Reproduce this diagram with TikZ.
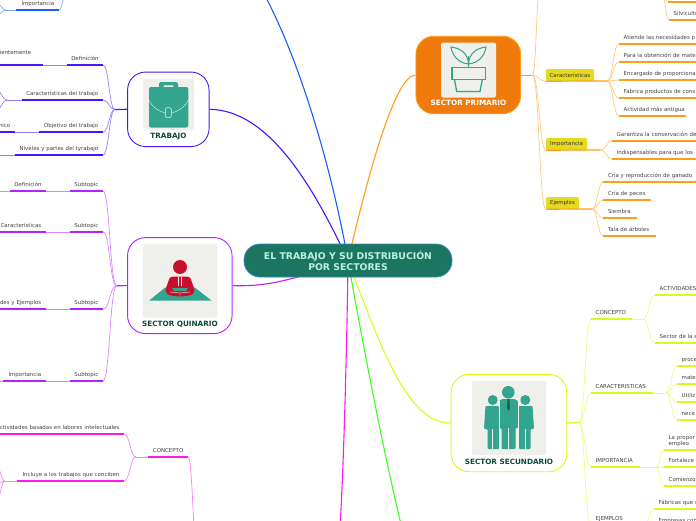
\documentclass[tikz,border=0pt]{standalone}
\usepackage{xcolor}
\usepackage{fontspec}
\setmainfont{DejaVu Sans}
\usetikzlibrary{calc, backgrounds}

\definecolor{violetc}{HTML}{4A14FF}
\definecolor{bluec}{HTML}{1A5CFF}
\definecolor{purplec}{HTML}{B422FF}
\definecolor{magentac}{HTML}{FF19E8}
\definecolor{orangec}{HTML}{FF9D1A}
\definecolor{limec}{HTML}{D2FF1A}
\definecolor{greenc}{HTML}{3CFF1E}
\definecolor{tealc}{HTML}{33A58F}
\definecolor{tilec}{HTML}{EFEFEB}
\definecolor{redc}{HTML}{C8102E}
\definecolor{darkc}{HTML}{0D4A3A}
\definecolor{mainc}{HTML}{1B7560}
\definecolor{mainb}{HTML}{3A8BB8}
\definecolor{maint}{HTML}{B9F2DE}
\definecolor{primc}{HTML}{F07A0C}
\definecolor{tagc}{HTML}{E6D91F}

\begin{document}
\begin{tikzpicture}[
    x=1pt, y=-1pt,
    central/.style={rectangle, rounded corners=16pt, draw=mainb, line width=.8pt, fill=mainc},
    sector/.style={rectangle, rounded corners=18pt, draw=#1, line width=.9pt, fill=white},
    tile/.style={rectangle, rounded corners=2pt, fill=tilec, inner sep=0pt},
    seclabel/.style={font=\fontsize{7.25}{8}\selectfont\bfseries, text=darkc, inner sep=0pt},
    lleaf/.style={anchor=south east, align=right, font=\fontsize{5.45}{6.2}\selectfont, text=black!75, inner xsep=4.5pt, inner ysep=2.8pt, text height=4pt, text depth=1.2pt},
    rleaf/.style={anchor=south west, align=left, font=\fontsize{5.45}{6.2}\selectfont, text=black!75, inner xsep=4.5pt, inner ysep=2.8pt, text height=4pt, text depth=1.2pt},
    tag/.style={rectangle, rounded corners=1.5pt, fill=tagc, text=black!80, inner sep=0pt, minimum height=12pt, font=\fontsize{5.45}{6.2}\selectfont},
    scurve/.style={to path={.. controls ($(\tikztostart)!0.5!(\tikztostart -| \tikztotarget)$) and ($(\tikztotarget)!0.5!(\tikztotarget -| \tikztostart)$) .. (\tikztotarget) \tikztonodes}},
    uline/.style={line width=1.2pt, draw=#1},
    link/.style={line width=.7pt, draw=#1!55, scurve},
    trunk/.style={line width=1.1pt, draw=#1}
]
\useasboundingbox (0,0) rectangle (696,520);

% centre and sectors
\node[central, minimum width=208pt, minimum height=33pt, align=center, text=maint, font=\fontsize{9.3}{11}\selectfont\bfseries] (main) at (348,260.5) {EL TRABAJO Y SU DISTRIBUCIÓN\\POR SECTORES};
\node[sector=violetc, minimum width=81.5pt, minimum height=74.5pt] (trabajo) at (168.3,109.3) {};
\node[sector=purplec, minimum width=104.5pt, minimum height=96pt] (quinario) at (179.8,285.6) {};
\node[sector=orangec, fill=primc, minimum width=104.7pt, minimum height=77.5pt] (primario) at (468.3,75) {};
\node[sector=limec, minimum width=115.7pt, minimum height=97.4pt] (secundario) at (508.9,423) {};
\node[tile, minimum width=51pt, minimum height=51pt] (tiletrab) at (168.5,104.5) {};
\node[tile, minimum width=74.5pt, minimum height=74pt] (tilequin) at (180.2,280.5) {};
\node[tile, minimum width=55pt, minimum height=55pt] (tileprim) at (468.5,70) {};
\node[tile, minimum width=74pt, minimum height=74pt] (tilesec) at (509,418) {};
\node[seclabel] (labtrab) at (168.5,136.7) {TRABAJO};
\node[seclabel] (labquin) at (180,324.7) {SECTOR QUINARIO};
\node[seclabel, text=white] (labprim) at (468.5,103.3) {SECTOR PRIMARIO};
\node[seclabel] (labsec) at (509,461.5) {SECTOR SECUNDARIO};

% icons
\fill[tealc, rounded corners=1.5pt] (159,88) rectangle (178,82);
\fill[tilec, rounded corners=.5pt] (163.5,87) rectangle (173.5,85.3);
\fill[tealc, rounded corners=2pt] (149,87) rectangle (188.3,127.5);
\draw[tilec, line width=.4pt] (149,100) .. controls (152,107) and (158,111) .. (165.3,113);
\draw[tilec, line width=.4pt] (188.3,100) .. controls (185,107) and (179,111) .. (171.3,113);
\draw[tilec, line width=.5pt, rounded corners=1.5pt, fill=tealc] (165.3,107.7) rectangle (171.3,117.7);

\fill[tealc] (165,287.7) -- (195,287.7) -- (211.7,300.7) -- (149,300.7) -- cycle;
\fill[redc, rounded corners=2.5pt] (170,276.7) -- (190,276.7) -- (195,291) -- (192,295) -- (182,296.5) -- (178,296.5) -- (168,295) -- (165,291) -- cycle;
\fill[tealc] (172,288) -- (188,288) -- (186,291) -- (174,291) -- cycle;
\draw[tilec, line width=.4pt] (178.5,276.7) -- (178.5,286) (181.5,276.7) -- (181.5,286);
\draw[tilec, line width=.4pt] (170,292) -- (180,293) -- (190,292) (180,293) -- (180,296.5);
\fill[redc] (180,267) circle (7);

\fill[tealc] (468,56) rectangle (469,68);
\draw[tealc, line width=1pt] (468.5,64) .. controls (468,53) and (460,48) .. (451,47) .. controls (452,55) and (458,63) .. (468.5,64);
\draw[tealc, line width=1pt] (468.5,64) .. controls (469,53) and (477,48) .. (486,47) .. controls (485,55) and (479,63) .. (468.5,64);
\draw[tealc, line width=1.3pt] (452,67.8) rectangle (485.5,79.5);
\draw[tealc, line width=1.3pt] (454.5,79.5) -- (456.7,91.5) -- (480,91.5) -- (482.3,79.5);

\fill[tealc, rounded corners=1pt] (485.5,406) -- (499,406) -- (499,449) -- (487.5,449) -- (487.5,429) -- (484,429) -- cycle;
\fill[tealc, rounded corners=1pt] (518,406) -- (532.5,406) -- (534,429) -- (530.5,429) -- (530.5,449) -- (519,449) -- cycle;
\fill[tealc] (492.7,400) circle (5) (525.3,400) circle (5);
\fill[tealc, rounded corners=1pt] (499,401) -- (502,399) -- (514.5,399) -- (518,401) -- (518,428) -- (515.5,428) -- (515.5,449) -- (501.5,449) -- (501.5,428) -- (499,428) -- cycle;
\fill[tealc] (508.3,392.3) circle (6.3);
\draw[tilec, line width=.4pt] (508.5,428) -- (508.5,449) (492.5,429) -- (492.5,449) (525.5,429) -- (525.5,449);
\draw[tilec, line width=.4pt] (499,401) -- (499,449) (518,401) -- (518,449);
\fill[darkc!70!tealc] (507.5,399) -- (509.5,399) -- (510,408) -- (508.5,411) -- (507,408) -- cycle;

% free ends
\coordinate (bluetop) at (263,-8);
\coordinate (greenbot) at (402,528);
\coordinate (magbot) at (340,528);
\coordinate (tophub) at (66,-6);
\coordinate (tophubl) at (6,10);
\coordinate (tophubla) at (-3,4);
\coordinate (tophublb) at (-3,15);
\coordinate (tcarhub) at (7,100);
\coordinate (tcarhuba) at (-3,91);
\coordinate (tcarhubb) at (-3,109);
\coordinate (tnivend) at (-3,155);
\coordinate (qaend) at (-3,191);
\coordinate (qdend) at (-3,381);
\coordinate (mtop) at (198,560);
\coordinate (mhub) at (136,457);
\coordinate (m2hub) at (5,481);
\coordinate (m2huba) at (-3,468);
\coordinate (m2hubb) at (-3,484);
\coordinate (m2hubc) at (-3,498);
\coordinate (ptop) at (540,-10);
\coordinate (ptophub) at (662,-6);
\coordinate (ptopa) at (668,2);
\coordinate (ptopb) at (700,2);

% hubs of the sectors
\coordinate (thub) at (115,109.5);
\coordinate (qhub) at (116.7,285.7);
\coordinate (phub) at (532.5,75.3);
\coordinate (shub) at (579,422.7);
\coordinate (pcarh) at (607,81);
\coordinate (pimph) at (600.5,150);
\coordinate (pejeh) at (592,209);
\coordinate (sconh) at (643,319);
\coordinate (scarh) at (666,393);
\coordinate (simph) at (656,467);
\coordinate (sejeh) at (644,525);

% trabajo
\node[lleaf, text width=34pt] (tipm) at (59,10) {Importancia};
\node[lleaf, text width=27pt] (tdef) at (103,65) {Definición};
\node[lleaf, text width=72pt] (tcar) at (103,100) {Características del trabajo};
\node[lleaf, text width=55pt] (tobj) at (103,132) {Objetivo del trabajo};
\node[lleaf, text width=79pt] (tniv) at (103,155) {Niveles y partes del tyrabajo};
\node[lleaf, text width=60pt, inner ysep=9.5pt] (tdefa) at (43,65) {dientemente\hspace*{7pt}};
\node[lleaf, text width=30pt] (tobja) at (15,132) {nico};

% quinario
\node[lleaf, text width=24pt] (qsa) at (103,191) {Subtopic};
\node[lleaf, text width=24pt] (qsb) at (103,232) {Subtopic};
\node[lleaf, text width=24pt] (qsc) at (103,309) {Subtopic};
\node[lleaf, text width=24pt] (qsd) at (103,381) {Subtopic};
\node[lleaf, text width=27pt] (qa) at (46,191) {Definición};
\node[lleaf, text width=50pt] (qb) at (46,232) {Características};
\node[lleaf, text width=50pt] (qc) at (46,309) {des y Ejemplos};
\node[lleaf, text width=34pt] (qd) at (46,381) {Importancia};

% magenta branch
\node[lleaf, text width=31pt] (mcon) at (188,457) {CONCEPTO};
\node[lleaf, text width=125pt] (ma) at (124,434) {ctividades basadas en labores intelectuales};
\node[lleaf, text width=98pt] (mb) at (124,481) {Incluye a los trabajos que conciben};

% primario
\node[tag, minimum width=48pt] (pcar) at (570,75) {Características};
\node[tag, minimum width=41pt] (pimp) at (566.5,144) {Importancia};
\node[tag, minimum width=33pt] (peje) at (562.5,203) {Ejemplos};
\node[rleaf, text width=40pt] (pta) at (669,20) {Silvicultu};
\node[rleaf, text width=90pt] (pca) at (619,44) {Atiende las necesidades p};
\node[rleaf, text width=90pt] (pcb) at (619,62) {Para la obtención de mate};
\node[rleaf, text width=90pt] (pcc) at (619,80) {Encargado de proporciona};
\node[rleaf, text width=90pt] (pcd) at (619,98) {Fabrica productos de cons};
\node[rleaf, text width=58pt] (pce) at (619,116) {\mbox{Actividad más antigua}};
\node[rleaf, text width=90pt] (pia) at (612,141) {Garantiza la conservación de};
\node[rleaf, text width=90pt] (pib) at (612,159) {Indispensables para que los};
\node[rleaf, text width=88pt] (pea) at (603.3,182) {Cría y reproducción de ganado};
\node[rleaf, text width=38pt] (peb) at (603.3,200) {Cría de peces};
\node[rleaf, text width=24pt] (pec) at (603.3,218) {Siembra};
\node[rleaf, text width=43pt] (ped) at (603.3,236) {Tala de árboles};

% secundario
\node[rleaf, text width=32pt] (scon) at (591,319) {CONCEPTO};
\node[rleaf, text width=53pt] (scar) at (591,393) {CARACTERISTICAS};
\node[rleaf, text width=40pt] (simp) at (591,467) {IMPORTANCIA};
\node[rleaf, text width=40pt] (seje) at (591,525) {EJEMPLOS};
\node[rleaf, text width=50pt] (ssa) at (655,295) {ACTIVIDADES};
\node[rleaf, text width=50pt] (ssb) at (655,343) {Sector de la e};
\node[rleaf, text width=30pt] (sca) at (677,366) {proce};
\node[rleaf, text width=30pt] (scb) at (677,384) {mate};
\node[rleaf, text width=30pt] (scc) at (677,402) {Utiliz};
\node[rleaf, text width=30pt] (scd) at (677,420) {nece};
\node[rleaf, text width=40pt, text depth=7.4pt] (sia) at (664,450) {La propor\\empleo};
\node[rleaf, text width=40pt] (sib) at (664,467) {Fortalece l};
\node[rleaf, text width=40pt] (sic) at (664,486) {Comienzo};
\node[rleaf, text width=50pt] (sea) at (654,509) {Fábricas que s};
\node[rleaf, text width=50pt] (seb) at (654,527) {Empresas con};

\begin{pgfonlayer}{background}
% from the centre
\draw[trunk=violetc] (trabajo.east) .. controls (270,110) and (315,190) .. (main.center);
\draw[trunk=bluec] (bluetop) .. controls (300,60) and (332,170) .. (main.center);
\draw[trunk=orangec] (primario.west) .. controls (395,75) and (368,175) .. (main.center);
\draw[trunk=limec] (secundario.west) .. controls (410,423) and (385,360) .. (main.center);
\draw[trunk=greenc] (greenbot) .. controls (385,460) and (362,340) .. (main.center);
\draw[trunk=magentac] (magbot) .. controls (344,460) and (347,340) .. (main.center);
\draw[trunk=purplec] (quinario.east) .. controls (270,287) and (298,278) .. (main.center);
\end{pgfonlayer}

% trabajo lines
\draw[uline=violetc] (thub) -- (trabajo.west);
\draw[uline=bluec] (tipm.south west) -- (tipm.south east);
\draw[link=bluec] (tipm.south east) to (tophub);
\draw[link=bluec] (tipm.south west) -- (tophubl);
\draw[link=bluec] (tophubl) to (tophubla);
\draw[link=bluec] (tophubl) to (tophublb);
\draw[uline=violetc] (tdef.south west) -- (tdef.south east);
\draw[uline=violetc] (tcar.south west) -- (tcar.south east);
\draw[uline=violetc] (tobj.south west) -- (tobj.south east);
\draw[uline=violetc] (tniv.south west) -- (tniv.south east);
\draw[uline=violetc] (tdefa.south west) -- (tdefa.south east);
\draw[uline=violetc] (tobja.south west) -- (tobja.south east);
\draw[link=violetc] (tdef.south east) to (thub);
\draw[link=violetc] (tcar.south east) to (thub);
\draw[link=violetc] (tobj.south east) to (thub);
\draw[link=violetc] (tniv.south east) to (thub);
\draw[link=violetc] (tdef.south west) -- (tdefa.south east);
\draw[link=violetc] (tobj.south west) -- (tobja.south east);
\draw[link=violetc] (tniv.south west) -- (tnivend);
\draw[link=violetc] (tcar.south west) -- (tcarhub);
\draw[link=violetc] (tcarhub) to (tcarhuba);
\draw[link=violetc] (tcarhub) to (tcarhubb);

% quinario lines
\draw[uline=purplec] (qhub) -- (quinario.west);
\draw[uline=purplec] (qsa.south west) -- (qsa.south east);
\draw[uline=purplec] (qsb.south west) -- (qsb.south east);
\draw[uline=purplec] (qsc.south west) -- (qsc.south east);
\draw[uline=purplec] (qsd.south west) -- (qsd.south east);
\draw[uline=purplec] (qa.south west) -- (qa.south east);
\draw[uline=purplec] (qb.south west) -- (qb.south east);
\draw[uline=purplec] (qc.south west) -- (qc.south east);
\draw[uline=purplec] (qd.south west) -- (qd.south east);
\draw[link=purplec] (qsa.south east) to (qhub);
\draw[link=purplec] (qsb.south east) to (qhub);
\draw[link=purplec] (qsc.south east) to (qhub);
\draw[link=purplec] (qsd.south east) to (qhub);
\draw[link=purplec] (qsa.south west) -- (qa.south east);
\draw[link=purplec] (qsb.south west) -- (qb.south east);
\draw[link=purplec] (qsc.south west) -- (qc.south east);
\draw[link=purplec] (qsd.south west) -- (qd.south east);
\draw[link=purplec] (qa.south west) -- (qaend);
\draw[link=purplec] (qd.south west) -- (qdend);

% magenta lines
\draw[uline=magentac] (mcon.south west) -- (mcon.south east);
\draw[uline=magentac] (ma.south west) -- (ma.south east);
\draw[uline=magentac] (mb.south west) -- (mb.south east);
\draw[link=magentac] (mcon.south east) to (mtop);
\draw[link=magentac] (mcon.south west) -- (mhub);
\draw[link=magentac] (mhub) to (ma.south east);
\draw[link=magentac] (mhub) to (mb.south east);
\draw[link=magentac] (mb.south west) -- (m2hub);
\draw[link=magentac] (m2hub) to (m2huba);
\draw[link=magentac] (m2hub) to (m2hubb);
\draw[link=magentac] (m2hub) to (m2hubc);

% primario lines
\draw[uline=orangec] (primario.east |- phub) -- (phub);
\draw[link=orangec] (phub) to (ptop);
\draw[link=orangec] (phub) to (pcar.south west);
\draw[link=orangec] (phub) to (pimp.south west);
\draw[link=orangec] (phub) to (peje.south west);
\draw[uline=orangec] (pcar.south west) -- (pcarh);
\draw[uline=orangec] (pimp.south west) -- (pimph);
\draw[uline=orangec] (peje.south west) -- (pejeh);
\draw[link=orangec] (pcarh) to (pca.south west);
\draw[link=orangec] (pcarh) to (pcb.south west);
\draw[link=orangec] (pcarh) to (pcc.south west);
\draw[link=orangec] (pcarh) to (pcd.south west);
\draw[link=orangec] (pcarh) to (pce.south west);
\draw[link=orangec] (pimph) to (pia.south west);
\draw[link=orangec] (pimph) to (pib.south west);
\draw[link=orangec] (pejeh) to (pea.south west);
\draw[link=orangec] (pejeh) to (peb.south west);
\draw[link=orangec] (pejeh) to (pec.south west);
\draw[link=orangec] (pejeh) to (ped.south west);
\draw[link=orangec] (ptophub) to (pta.south west);
\draw[link=orangec] (ptophub) to (ptopa);
\draw[uline=orangec] (ptopa) -- (ptopb);
\draw[uline=orangec] (pta.south west) -- (pta.south east);
\draw[uline=orangec] (pca.south west) -- (pca.south east);
\draw[uline=orangec] (pcb.south west) -- (pcb.south east);
\draw[uline=orangec] (pcc.south west) -- (pcc.south east);
\draw[uline=orangec] (pcd.south west) -- (pcd.south east);
\draw[uline=orangec] (pce.south west) -- (pce.south east);
\draw[uline=orangec] (pia.south west) -- (pia.south east);
\draw[uline=orangec] (pib.south west) -- (pib.south east);
\draw[uline=orangec] (pea.south west) -- (pea.south east);
\draw[uline=orangec] (peb.south west) -- (peb.south east);
\draw[uline=orangec] (pec.south west) -- (pec.south east);
\draw[uline=orangec] (ped.south west) -- (ped.south east);

% secundario lines
\draw[uline=limec] (secundario.east) -- (shub);
\draw[link=limec] (shub) to (scon.south west);
\draw[link=limec] (shub) to (scar.south west);
\draw[link=limec] (shub) to (simp.south west);
\draw[link=limec] (shub) to (seje.south west);
\draw[uline=limec] (scon.south west) -- (scon.south east);
\draw[uline=limec] (scar.south west) -- (scar.south east);
\draw[uline=limec] (simp.south west) -- (simp.south east);
\draw[link=limec] (scon.south east) -- (sconh);
\draw[link=limec] (scar.south east) -- (scarh);
\draw[link=limec] (simp.south east) -- (simph);
\draw[link=limec] (sconh) to (ssa.south west);
\draw[link=limec] (sconh) to (ssb.south west);
\draw[link=limec] (scarh) to (sca.south west);
\draw[link=limec] (scarh) to (scb.south west);
\draw[link=limec] (scarh) to (scc.south west);
\draw[link=limec] (scarh) to (scd.south west);
\draw[link=limec] (simph) to (sia.south west);
\draw[link=limec] (simph) to (sib.south west);
\draw[link=limec] (simph) to (sic.south west);
\draw[link=limec] (sejeh) to (sea.south west);
\draw[link=limec] (sejeh) to (seb.south west);
\draw[uline=limec] (ssa.south west) -- (ssa.south east);
\draw[uline=limec] (ssb.south west) -- (ssb.south east);
\draw[uline=limec] (sca.south west) -- (sca.south east);
\draw[uline=limec] (scb.south west) -- (scb.south east);
\draw[uline=limec] (scc.south west) -- (scc.south east);
\draw[uline=limec] (scd.south west) -- (scd.south east);
\draw[uline=limec] (sia.south west) -- (sia.south east);
\draw[uline=limec] (sib.south west) -- (sib.south east);
\draw[uline=limec] (sic.south west) -- (sic.south east);
\draw[uline=limec] (sea.south west) -- (sea.south east);
\end{tikzpicture}
\end{document}
